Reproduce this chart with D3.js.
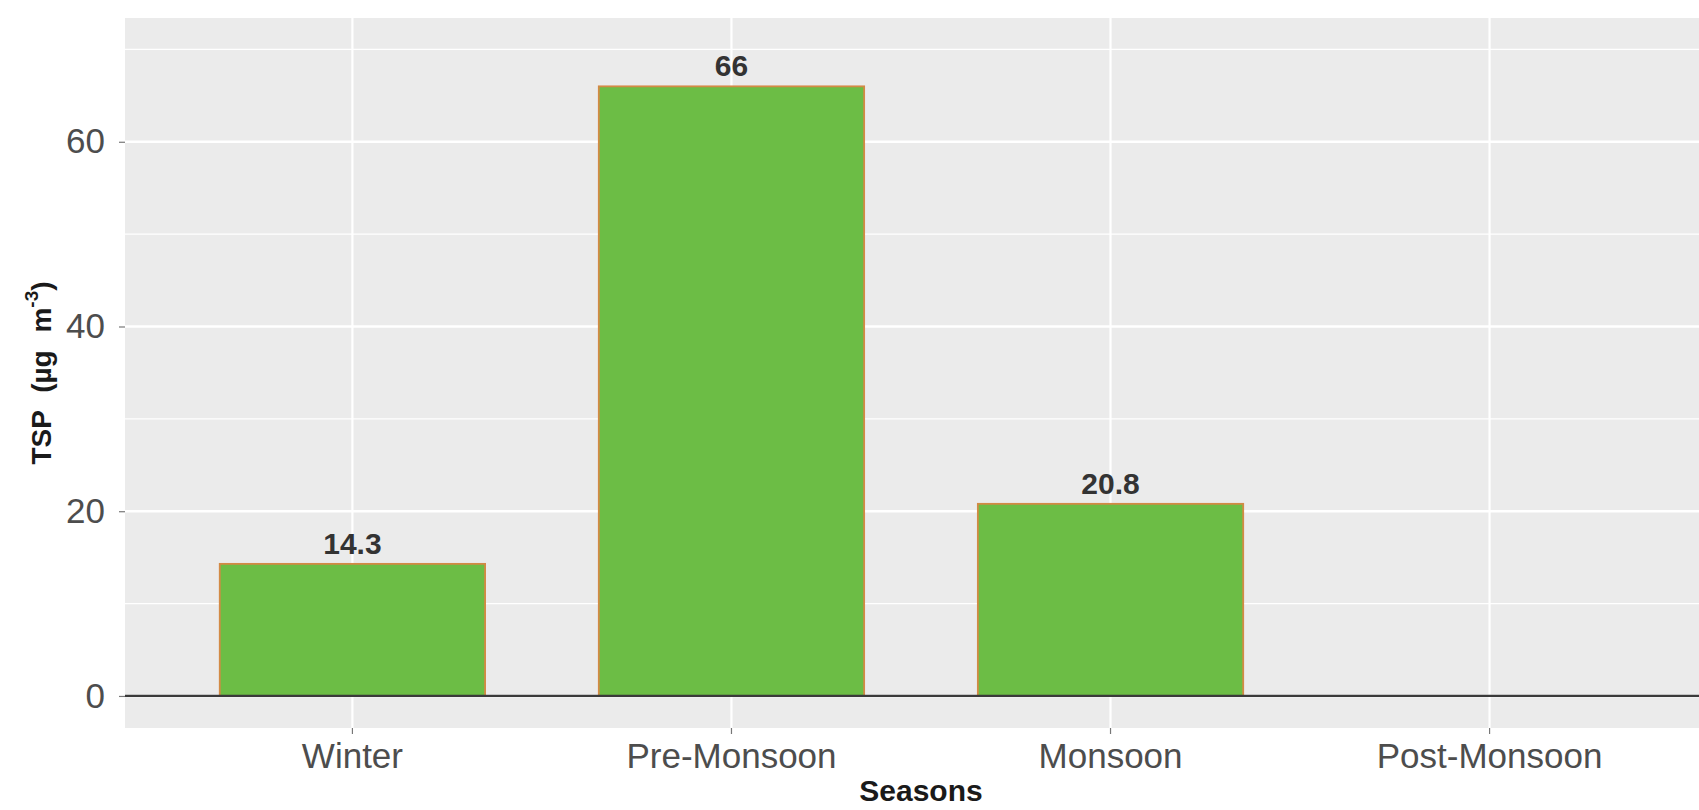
<!DOCTYPE html>
<html>
<head>
<meta charset="utf-8">
<script src="https://cdn.jsdelivr.net/npm/d3@7"></script>
<style>
  html, body { margin: 0; padding: 0; background: #ffffff; overflow: hidden; }
  svg { display: block; font-family: "Liberation Sans", Arial, sans-serif; }
</style>
</head>
<body>
<svg id="chart" width="1699" height="810"></svg>
<script>
// ---- data ----
const categories = ["Winter", "Pre-Monsoon", "Monsoon", "Post-Monsoon"];
const tspValues = [14.3, 66, 20.8, null];
const valueLabels = ["14.3", "66", "20.8", ""];
const yMajorTicks = [0, 20, 40, 60];
const yMinorTicks = [10, 30, 50, 70];
const xTitle = "Seasons";

// ---- layout ----
const panel = { left: 125, right: 1717, top: 18, bottom: 728 };

const svg = d3.select("#chart");

const x = d3.scaleBand()
  .domain(categories)
  .range([panel.left, panel.right])
  .paddingInner(0.3)
  .paddingOuter(0.25);

const y = d3.scaleLinear()
  .domain([-3.47, 73.4])
  .range([panel.bottom, panel.top]);

// panel background
svg.append("rect")
  .attr("x", panel.left).attr("y", panel.top)
  .attr("width", panel.right - panel.left)
  .attr("height", panel.bottom - panel.top)
  .attr("fill", "#EBEBEB");

// minor grid
svg.append("g").selectAll("line").data(yMinorTicks).join("line")
  .attr("x1", panel.left).attr("x2", panel.right)
  .attr("y1", d => y(d)).attr("y2", d => y(d))
  .attr("stroke", "#ffffff").attr("stroke-width", 1.2);

// major grid
svg.append("g").selectAll("line").data(yMajorTicks).join("line")
  .attr("x1", panel.left).attr("x2", panel.right)
  .attr("y1", d => y(d)).attr("y2", d => y(d))
  .attr("stroke", "#ffffff").attr("stroke-width", 2.4);

svg.append("g").selectAll("line").data(categories).join("line")
  .attr("x1", d => x(d) + x.bandwidth() / 2).attr("x2", d => x(d) + x.bandwidth() / 2)
  .attr("y1", panel.top).attr("y2", panel.bottom)
  .attr("stroke", "#ffffff").attr("stroke-width", 2.2);

// bars
const barData = categories.map((c, i) => ({ cat: c, v: tspValues[i], label: valueLabels[i] }))
  .filter(d => d.v != null);

svg.append("g").selectAll("rect").data(barData).join("rect")
  .attr("x", d => x(d.cat))
  .attr("width", x.bandwidth())
  .attr("y", d => y(d.v))
  .attr("height", d => y(0) - y(d.v))
  .attr("fill", "#6CBD45")
  .attr("stroke", "#D38A45")
  .attr("stroke-width", 1.8);

// value labels
svg.append("g").selectAll("text").data(barData).join("text")
  .attr("x", d => x(d.cat) + x.bandwidth() / 2)
  .attr("y", d => y(d.v) - 10)
  .attr("text-anchor", "middle")
  .attr("font-size", 30)
  .attr("font-weight", "bold")
  .attr("fill", "#333333")
  .text(d => d.label);

// zero line
svg.append("line")
  .attr("x1", panel.left).attr("x2", panel.right)
  .attr("y1", y(0)).attr("y2", y(0))
  .attr("stroke", "#3a3a3a").attr("stroke-width", 2.2);

// y axis
const yAxis = d3.axisLeft(y).tickValues(yMajorTicks).tickSize(6).tickPadding(14).tickFormat(d3.format("d"));
const gy = svg.append("g").attr("transform", `translate(${panel.left},0)`).call(yAxis);
gy.select(".domain").remove();
gy.selectAll(".tick line").attr("stroke", "#777").attr("stroke-width", 1.2);
gy.selectAll(".tick text")
  .attr("font-size", 35)
  .attr("font-family", "Liberation Sans, Arial, sans-serif")
  .attr("fill", "#4D4D4D");

// x axis
const xAxis = d3.axisBottom(x).tickSize(6).tickPadding(9);
const gx = svg.append("g").attr("transform", `translate(0,${panel.bottom})`).call(xAxis);
gx.select(".domain").remove();
gx.selectAll(".tick line").attr("stroke", "#777").attr("stroke-width", 1.2);
gx.selectAll(".tick text")
  .attr("font-size", 35)
  .attr("font-family", "Liberation Sans, Arial, sans-serif")
  .attr("fill", "#4D4D4D");

// x title
svg.append("text")
  .attr("x", (panel.left + panel.right) / 2)
  .attr("y", 801)
  .attr("text-anchor", "middle")
  .attr("font-size", 30)
  .attr("font-weight", "bold")
  .attr("fill", "#1a1a1a")
  .text(xTitle);

// y title
const yt = svg.append("text")
  .attr("transform", `translate(51,${(panel.top + panel.bottom) / 2}) rotate(-90)`)
  .attr("text-anchor", "middle")
  .attr("font-size", 28)
  .attr("font-weight", "bold")
  .attr("fill", "#1a1a1a")
  .attr("word-spacing", 10);
yt.append("tspan").text("TSP (µg m");
yt.append("tspan").attr("dy", -13).attr("font-size", 19).text("-3");
yt.append("tspan").attr("dy", 13).text(")");
</script>
</body>
</html>
